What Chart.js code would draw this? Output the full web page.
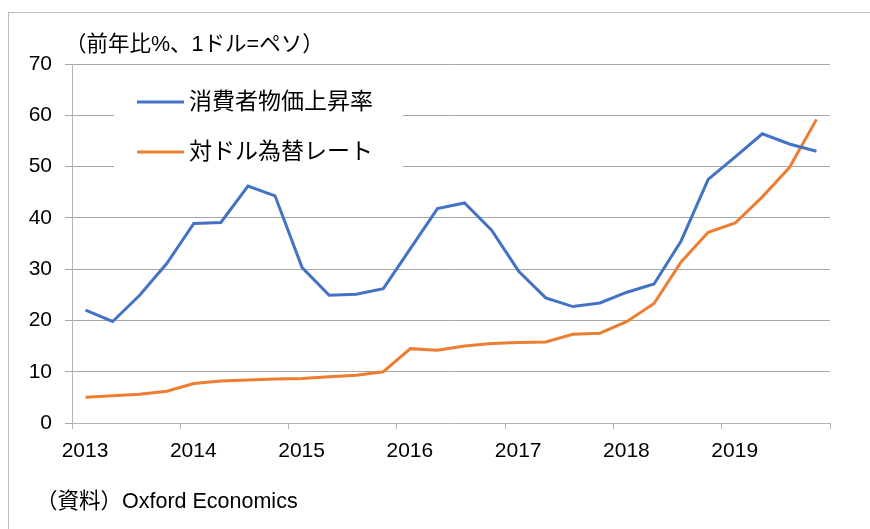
<!DOCTYPE html>
<html>
<head>
<meta charset="utf-8">
<script src="https://cdn.jsdelivr.net/npm/chart.js@4"></script>
<style>
    html, body { margin: 0; padding: 0; background: #fff; }
    #wrap { position: relative; width: 870px; height: 529px; overflow: hidden; }
    #frame { position: absolute; left: 8px; top: 12px; width: 900px; height: 600px;
             border-top: 1px solid #bcbcbc; border-left: 1px solid #bcbcbc; }
    canvas { position: absolute; left: 0; top: 0; }
    .note { position: absolute; font-family: "Liberation Sans", "Noto Sans CJK JP", sans-serif;
            color: #000; white-space: nowrap; line-height: 1; }
    #unit { left: 65px; top: 34px; font-size: 21.5px; }
    #source { left: 36px; top: 491px; font-size: 21.5px; }
</style>
</head>
<body>
<div id="wrap">
    <div id="frame"></div>
    <canvas id="chart" width="870" height="529"></canvas>
    <div class="note" id="unit">（前年比%、1ドル=ペソ）</div>
    <div class="note" id="source">（資料）Oxford Economics</div>
</div>
<script>
// Quarterly data, 2013Q1 - 2019Q4
const quarters = [
    '2013Q1', '2013Q2', '2013Q3', '2013Q4',
    '2014Q1', '2014Q2', '2014Q3', '2014Q4',
    '2015Q1', '2015Q2', '2015Q3', '2015Q4',
    '2016Q1', '2016Q2', '2016Q3', '2016Q4',
    '2017Q1', '2017Q2', '2017Q3', '2017Q4',
    '2018Q1', '2018Q2', '2018Q3', '2018Q4',
    '2019Q1', '2019Q2', '2019Q3', '2019Q4'
];
const cpiInflation = [22.0, 19.8, 24.9, 31.1, 38.9, 39.1, 46.2, 44.3, 30.3, 24.9, 25.1, 26.2,
                      34.0, 41.8, 42.9, 37.6, 29.6, 24.4, 22.7, 23.4, 25.5, 27.1, 35.5, 47.5,
                      51.9, 56.4, 54.4, 53.0];
const fxRate = [5.0, 5.3, 5.6, 6.2, 7.7, 8.2, 8.4, 8.6, 8.7, 9.0, 9.3, 10.0,
                14.5, 14.2, 15.0, 15.5, 15.7, 15.8, 17.3, 17.5, 19.8, 23.3, 31.4, 37.2,
                39.0, 44.1, 49.8, 59.2];
const yearLabels = ['2013', '2014', '2015', '2016', '2017', '2018', '2019'];
const seriesNames = ['消費者物価上昇率', '対ドル為替レート'];

const FONT = '"Liberation Sans", "Noto Sans CJK JP", sans-serif';
const GRID = '#a6a6a6';
const AXIS = '#b4b4b4';

// quarter label -> position on a year axis (middle of the quarter)
function quarterPos(label) {
    const year = parseInt(label.slice(0, 4));
    const q = parseInt(label.slice(5));
    return year + (q - 0.5) / 4;
}

function toPoints(values) {
    return values.map((v, i) => ({ x: quarterPos(quarters[i]), y: v }));
}

// Legend drawn inside the plot area on a white box
const innerLegend = {
    id: 'innerLegend',
    beforeDatasetsDraw(chart) {
        const ctx = chart.ctx;
        ctx.save();
        ctx.fillStyle = '#fff';
        ctx.fillRect(114, 76, 289, 104);
        chart.data.datasets.forEach((ds, i) => {
            const y = 102 + i * 50;
            ctx.strokeStyle = ds.borderColor;
            ctx.lineWidth = 3;
            ctx.beginPath();
            ctx.moveTo(137, y);
            ctx.lineTo(184, y);
            ctx.stroke();
            ctx.fillStyle = '#000';
            ctx.font = '23px ' + FONT;
            ctx.textBaseline = 'middle';
            ctx.fillText(ds.label, 189, y + 1);
        });
        ctx.restore();
    }
};

const ctx = document.getElementById('chart').getContext('2d');
const chart = new Chart(ctx, {
    type: 'line',
    data: {
        datasets: [{
            label: seriesNames[0],
            data: toPoints(cpiInflation),
            borderColor: '#4472C4',
            borderWidth: 3,
            pointRadius: 0,
            tension: 0
        }, {
            label: seriesNames[1],
            data: toPoints(fxRate),
            borderColor: '#ED7D31',
            borderWidth: 3,
            pointRadius: 0,
            tension: 0
        }]
    },
    options: {
        responsive: false,
        animation: false,
        layout: {
            padding: { left: 0, right: 40, top: 64, bottom: 0 }
        },
        scales: {
            x: {
                type: 'linear',
                min: 2013,
                max: 2020,
                afterBuildTicks: scale => {
                    scale.ticks = yearLabels.concat(['2020']).map(y => ({ value: parseInt(y) }));
                },
                afterFit: scale => { scale.height = 106; },
                ticks: {
                    callback: v => yearLabels.includes(String(v)) ? String(v) : '',
                    labelOffset: 13,
                    padding: 10,
                    maxRotation: 0,
                    autoSkip: false,
                    color: '#000',
                    font: { family: FONT, size: 21 }
                },
                grid: {
                    drawOnChartArea: false,
                    color: AXIS,
                    tickLength: 6
                },
                border: { color: AXIS }
            },
            y: {
                min: 0,
                max: 70,
                afterFit: scale => { scale.width = 72; },
                ticks: {
                    stepSize: 10,
                    padding: 13,
                    color: '#000',
                    font: { family: FONT, size: 21 }
                },
                grid: {
                    color: GRID,
                    tickLength: 7
                },
                border: { color: AXIS }
            }
        },
        plugins: {
            legend: { display: false },
            tooltip: { enabled: false }
        }
    },
    plugins: [innerLegend]
});
</script>
</body>
</html>
